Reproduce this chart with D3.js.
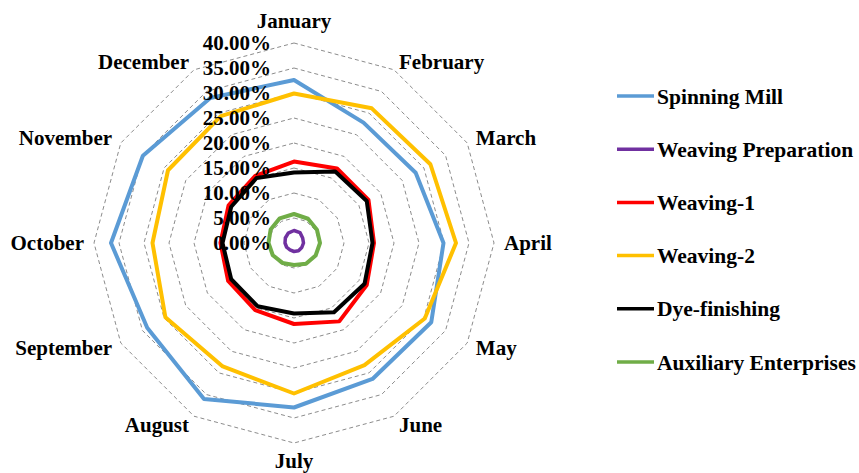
<!DOCTYPE html>
<html>
<head>
<meta charset="utf-8">
<script src="https://cdn.jsdelivr.net/npm/d3@7"></script>
<style>
  html, body { margin: 0; padding: 0; background: #fff; }
  svg { display: block; }
  text { font-family: "Liberation Serif", "Times New Roman", serif; font-weight: bold; fill: #000; }
</style>
</head>
<body>
<svg id="chart" width="859" height="473"></svg>
<script>
// Months around the radar, clockwise from the top
const months = ["January", "February", "March", "April", "May", "June",
                "July", "August", "September", "October", "November", "December"];

// Radial tick values (percent)
const tickValues = [0, 5, 10, 15, 20, 25, 30, 35, 40];

// Monthly share per department (percent)
const spinningMill       = [32.6, 27.8, 28.1, 29.9, 31.7, 31.4, 32.9, 36.0, 33.9, 36.6, 34.9, 33.5];
const weavingPreparation = [2.5, 2.4, 2.0, 1.9, 1.8, 1.8, 1.7, 1.6, 1.7, 1.8, 2.0, 2.3];
const weaving1           = [16.3, 17.2, 17.2, 16.0, 16.8, 18.1, 16.2, 15.5, 15.2, 14.7, 15.1, 15.5];
const weaving2           = [29.9, 31.1, 31.5, 32.4, 30.2, 28.2, 30.1, 28.5, 29.7, 28.3, 29.1, 29.3];
const dyeFinishing       = [14.1, 16.5, 16.8, 15.7, 16.3, 16.0, 14.1, 14.6, 14.5, 14.3, 14.5, 15.0];
const auxiliary          = [5.8, 5.6, 5.3, 5.2, 5.0, 4.8, 4.4, 4.6, 4.9, 5.1, 5.4, 5.7];

const seriesNames  = ["Spinning Mill", "Weaving Preparation", "Weaving-1", "Weaving-2", "Dye-finishing", "Auxiliary Enterprises"];
const seriesColors = ["#5B9BD5", "#7030A0", "#FF0000", "#FFC000", "#000000", "#70AD47"];
const seriesValues = [spinningMill, weavingPreparation, weaving1, weaving2, dyeFinishing, auxiliary];

const svg = d3.select("#chart");
const cx = 294, cy = 243;

const r = d3.scaleLinear().domain([0, 40]).range([0, 200]);
const angle = d3.scaleLinear().domain([0, months.length]).range([0, 2 * Math.PI]);

const g = svg.append("g").attr("transform", `translate(${cx},${cy})`);

// Dashed polygon gridlines
const ringLine = d3.lineRadial()
  .angle((d, i) => angle(i))
  .radius(d => r(d))
  .curve(d3.curveLinearClosed);

g.append("g").selectAll("path")
  .data(tickValues.filter(v => v > 0))
  .join("path")
  .attr("d", v => ringLine(months.map(() => v)))
  .attr("fill", "none")
  .attr("stroke", "#8c8c8c")
  .attr("stroke-width", 1)
  .attr("stroke-dasharray", "4,3");

// Series polygons
const seriesLine = d3.lineRadial()
  .angle((d, i) => angle(i))
  .radius(d => r(d))
  .curve(d3.curveLinearClosed);

g.append("g").selectAll("path")
  .data(seriesValues)
  .join("path")
  .attr("d", d => seriesLine(d))
  .attr("fill", "none")
  .attr("stroke", (d, i) => seriesColors[i])
  .attr("stroke-width", (d, i) => i === 1 ? 3.5 : 4)
  .attr("stroke-linejoin", "round");

// Radial axis tick labels
const fmt = d3.format(".2f");
g.append("g").selectAll("text")
  .data(tickValues)
  .join("text")
  .attr("x", -23)
  .attr("y", v => -r(v))
  .attr("dy", "0.35em")
  .attr("text-anchor", "end")
  .style("font-size", "21px")
  .text(v => fmt(v) + "%");

// Month labels just outside the outer ring
const labelR = 210;
g.append("g").selectAll("text")
  .data(months)
  .join("text")
  .each(function (m, i) {
    const a = angle(i);
    const x = labelR * Math.sin(a), y = -labelR * Math.cos(a);
    const s = Math.sin(a), c = Math.cos(a);
    const t = d3.select(this).attr("x", x).attr("y", y).style("font-size", "21px");
    if (Math.abs(s) < 1e-6) {
      t.attr("text-anchor", "middle").attr("dy", c > 0 ? "-0.25em" : "0.72em");
    } else {
      t.attr("text-anchor", s > 0 ? "start" : "end").attr("dy", "0.35em");
    }
  })
  .text(m => m);

// Legend
const legend = svg.append("g").attr("transform", "translate(617,96)");
const item = legend.selectAll("g")
  .data(seriesNames)
  .join("g")
  .attr("transform", (d, i) => `translate(0,${i * 53.2})`);
item.append("line")
  .attr("x1", 0).attr("x2", 37)
  .attr("y1", 0).attr("y2", 0)
  .attr("stroke", (d, i) => seriesColors[i])
  .attr("stroke-width", 3.5);
item.append("text")
  .attr("x", 40)
  .attr("dy", "0.35em")
  .style("font-size", "21.5px")
  .text(d => d);
</script>
</body>
</html>
